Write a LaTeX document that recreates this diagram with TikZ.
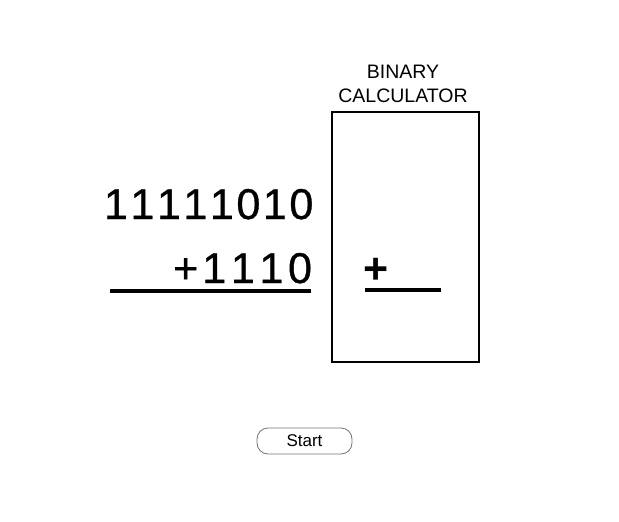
\documentclass[tikz,border=0pt]{standalone}
\usepackage{fontspec}
\setmainfont{Liberation Sans}
\newfontfamily\numfont[FakeBold=0.8]{Liberation Sans}
\newcommand{\cellA}[1]{\makebox[26.5pt]{#1}}
\newcommand{\cellB}[1]{\makebox[28.6pt]{#1}}
\tikzset{
  bignum/.style={inner sep=0pt, font=\numfont\fontsize{43}{50}\selectfont, anchor=base west},
  rule/.style={line width=4pt},
  title/.style={inner sep=0pt, font=\fontsize{19.5}{24}\selectfont, anchor=base},
  calcbox/.style={draw, line width=1.6pt},
  startbtn/.style={draw=black!55, line width=0.8pt, rounded corners=11pt, minimum width=95pt, minimum height=26pt, inner sep=0pt, font=\fontsize{17}{18}\selectfont}
}
\begin{document}
\begin{tikzpicture}[x=1pt,y=-1pt]
\useasboundingbox (0,0) rectangle (619,522);
% left sum
\node[bignum] (top) at (102.5,219) {\cellA{1}\cellA{1}\cellA{1}\cellA{1}\cellA{1}\cellA{0}\cellA{1}\cellA{0}};
\node[bignum] (bot) at (171.2,283) {\cellB{+}\cellB{1}\cellB{1}\cellB{1}\cellB{0}};
\coordinate (ul1) at (110,291);
\coordinate (ul2) at (311,291);
\draw[rule] (ul1) -- (ul2);
% calculator
\node[title] (t1) at (403,78) {BINARY};
\node[title] (t2) at (403,102) {CALCULATOR};
\node[calcbox, minimum width=147pt, minimum height=250pt, anchor=north west, inner sep=0pt] (calc) at (331,111) {};
\node[bignum, anchor=base, font=\bfseries\fontsize{43}{50}\selectfont] (plus) at (376.5,283) {+};
\coordinate (cl1) at (365,290);
\coordinate (cl2) at (441,290);
\draw[rule] (cl1) -- (cl2);
% start button
\node[startbtn] (start) at (304.5,441) {Start};
\end{tikzpicture}
\end{document}
